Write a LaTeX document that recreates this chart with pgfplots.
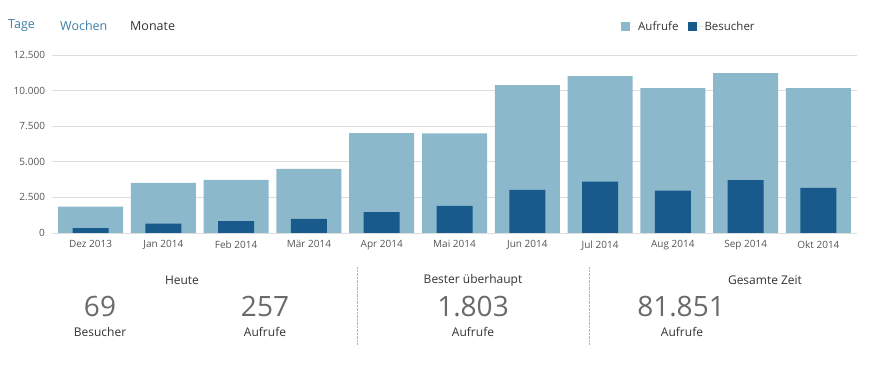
\documentclass[border=0pt]{standalone}
\usepackage{pgfplots}
\pgfplotsset{compat=1.18}
\usepackage{fontspec}
\setmainfont{Open Sans}
\definecolor{light}{HTML}{8CB8CC}
\definecolor{dark}{HTML}{175A8B}
\definecolor{tickc}{HTML}{555555}
\definecolor{linkc}{HTML}{3A7FA8}
\definecolor{txt}{HTML}{333333}
\definecolor{big}{HTML}{6A6A6A}
\definecolor{gridc}{HTML}{DDDDDD}
\begin{document}
\begin{tikzpicture}
\path[use as bounding box] (0pt,0pt) rectangle (869pt,382pt);
\begin{axis}[
  at={(52pt,149pt)}, anchor=south west,
  scale only axis, width=805pt, height=178pt,
  xmin=-0.53, xmax=10.53, ymin=0, ymax=12500,
  scaled y ticks=false,
  axis line style={draw=none},
  major tick length=0pt,
  ymajorgrids, grid style={gridc, line width=0.8pt},
  ytick={0,2500,5000,7500,10000,12500},
  yticklabels={0,{2.500},{5.000},{7.500},{10.000},{12.500}},
  xtick={0,...,10},
  xticklabels={Dez 2013,Jan 2014,Feb 2014,Mär 2014,Apr 2014,Mai 2014,Jun 2014,Jul 2014,Aug 2014,Sep 2014,Okt 2014},
  xticklabel style={font=\fontsize{10}{12}\selectfont, text=tickc, yshift=-4pt},
  yticklabel style={font=\fontsize{10}{12}\selectfont, text=tickc, xshift=-3.5pt},
  legend style={at={(0.7068,1.16)}, anchor=west, draw=none, fill=none,
    font=\fontsize{11.5}{14}\selectfont, text=txt, inner sep=0pt,
    nodes={inner sep=0pt}},
  legend columns=2,
  legend cell align=left,
  /tikz/every even column/.append style={column sep=9pt},
  legend image code/.code={\fill[#1] (0pt,-4.5pt) rectangle (9pt,4.5pt); \path (0pt,0pt) -- (17pt,0pt);},
]
\addplot[ybar, bar width=65pt, bar shift=0pt, fill=light, draw=none]
  coordinates {(0,1850) (1,3520) (2,3730) (3,4500) (4,7020) (5,7000) (6,10390) (7,11020) (8,10180) (9,11230) (10,10180)};
\addlegendentry{Aufrufe}
\addplot[ybar, bar width=36pt, bar shift=0pt, fill=dark, draw=none]
  coordinates {(0,340) (1,650) (2,840) (3,1000) (4,1470) (5,1900) (6,3030) (7,3600) (8,2970) (9,3720) (10,3160)};
\addlegendentry{Besucher}
\end{axis}
% header links
\node[anchor=west, inner sep=0pt, text=linkc, font=\fontsize{12.5}{14}\selectfont] at (8pt,356pt) {Tage};
\node[anchor=west, inner sep=0pt, text=linkc, font=\fontsize{12.5}{14}\selectfont] at (60pt,356pt) {Wochen};
\node[anchor=west, inner sep=0pt, text=txt, font=\fontsize{12.5}{14}\selectfont] at (130pt,356pt) {Monate};
% summary
\tikzset{lab/.style={inner sep=0pt, text=txt, font=\fontsize{12}{14}\selectfont},
         num/.style={inner sep=0pt, text=big, font=\fontsize{28}{30}\selectfont}}
\node[lab] at (182pt,102pt) {Heute};
\node[num] at (100pt,75pt) {69};
\node[lab] at (100pt,50pt) {Besucher};
\node[num] at (265pt,75pt) {257};
\node[lab] at (265pt,50pt) {Aufrufe};
\draw[gray!60, densely dotted] (357pt,115pt) -- (357pt,37pt);
\node[lab] at (473pt,102pt) {Bester überhaupt};
\node[num] at (473pt,75pt) {1.803};
\node[lab] at (473pt,50pt) {Aufrufe};
\draw[gray!60, densely dotted] (589pt,115pt) -- (589pt,37pt);
\node[lab] at (765pt,102pt) {Gesamte Zeit};
\node[num] at (681pt,75pt) {81.851};
\node[lab] at (682pt,50pt) {Aufrufe};
\end{tikzpicture}
\end{document}
